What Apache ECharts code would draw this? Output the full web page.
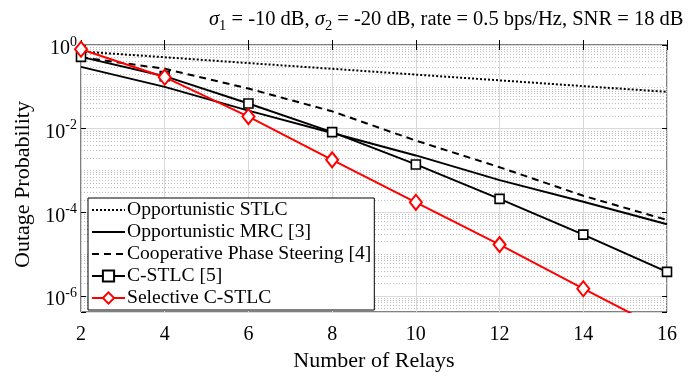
<!DOCTYPE html>
<html><head><meta charset="utf-8">
<script src="https://cdn.jsdelivr.net/npm/echarts@6/dist/echarts.min.js"></script>
<style>html,body{margin:0;padding:0;background:#fff}#c{width:693px;height:377px}</style>
</head><body><div id="c"></div>
<script>
// ---- data ----
const relays = [2, 4, 6, 8, 10, 12, 14, 16];
const oppSTLC  = [0.70, 0.51, 0.37, 0.27, 0.196, 0.143, 0.104, 0.076];
const oppMRC   = [0.30, 0.10, 0.027, 0.0079, 0.0023, 5.9e-4, 1.8e-4, 5.2e-5];
const coopPS   = [0.51, 0.27, 0.091, 0.026, 0.0052, 0.0012, 2.5e-4, 6.6e-5];
const cSTLC    = [0.52, 0.18, 0.040, 0.0083, 0.0014, 2.1e-4, 2.95e-5, 3.8e-6];
const selCSTLC = [0.79, 0.17, 0.0195, 0.0018, 1.74e-4, 1.7e-5, 1.5e-6, 1.4e-7];
const seriesNames = ['Opportunistic STLC', 'Opportunistic MRC [3]', 'Cooperative Phase Steering [4]', 'C-STLC [5]', 'Selective C-STLC'];
const yMajorExponents = [0, -2, -4, -6];
const yMinorDecades = [0, -1, -2, -3, -4, -5, -6, -7];
const yMinorMultipliers = [2, 3, 4, 5, 6, 7, 8, 9];
const yOddDecades = [-1, -3, -5];
const yMinLog = -6.38, yMaxLog = 0;

const FONT = '"Liberation Serif", "Times New Roman", serif';
const toLog = arr => arr.map((v, i) => [relays[i], Math.log10(v)]);

// minor (dotted) grid lines at m*10^k
const minorLines = [];
yMinorDecades.forEach(k => yMinorMultipliers.forEach(m => {
  const v = Math.log10(m) + k;
  if (v > yMinLog && v < yMaxLog) minorLines.push({yAxis: v});
}));
yOddDecades.forEach(k => minorLines.push({yAxis: k}));

const chart = echarts.init(document.getElementById('c'), null, {renderer: 'canvas'});
const yLabelFmt = v => {
  const e = Math.round(v);
  if (Math.abs(v - e) > 1e-6 || yMajorExponents.indexOf(e) < 0) return '';
  return '{b|10}{s|' + e + '}';
};
const baseY = {
  type: 'value', min: yMinLog, max: yMaxLog, splitNumber: 3,
  axisLine: {show: false},
  axisTick: {show: true, inside: true, length: 5, lineStyle: {color: '#000'}},
};
const noSymbolLegend = {opacity: 0};
const option = {
  animation: false,
  backgroundColor: '#fff',
  title: {
    text: '{i|σ}{sub|1}{n| = -10 dB, }{i|σ}{sub|2}{n| = -20 dB, rate = 0.5 bps/Hz, SNR = 18 dB}',
    left: 204, top: 1,
    textStyle: {
      fontWeight: 'normal',
      rich: {
        i: {fontFamily: FONT, fontSize: 20.5, fontStyle: 'italic', fontWeight: 'normal', color: '#000', lineHeight: 28},
        n: {fontFamily: FONT, fontSize: 20.5, fontWeight: 'normal', color: '#000', lineHeight: 28},
        sub: {fontFamily: FONT, fontSize: 14.5, fontWeight: 'normal', color: '#000', lineHeight: 12, verticalAlign: 'bottom'}
      }
    }
  },
  grid: {left: 81, right: 26, top: 45, bottom: 60, show: true, borderColor: '#000', borderWidth: 1, backgroundColor: 'transparent'},
  legend: {
    orient: 'vertical', left: 88, top: 198,
    backgroundColor: '#fff', borderColor: '#000', borderWidth: 1,
    padding: [2, 3, 2, 3], itemGap: 2, itemWidth: 33, itemHeight: 14,
    textStyle: {fontFamily: FONT, fontSize: 19.6, color: '#000', lineHeight: 20, padding: [0, 0, 0, -3]},
    data: [
      {name: seriesNames[0], itemStyle: noSymbolLegend},
      {name: seriesNames[1], itemStyle: noSymbolLegend},
      {name: seriesNames[2], itemStyle: noSymbolLegend},
      {name: seriesNames[3]},
      {name: seriesNames[4]}
    ]
  },
  xAxis: [{
    type: 'value', min: 2, max: 16, interval: 2,
    name: 'Number of Relays', nameLocation: 'middle', nameGap: 38,
    nameTextStyle: {fontFamily: FONT, fontSize: 22, color: '#000'},
    axisLine: {show: false},
    axisTick: {show: true, inside: true, length: 5, lineStyle: {color: '#000'}},
    axisLabel: {fontFamily: FONT, fontSize: 20, color: '#000', margin: 13},
    splitLine: {show: true, lineStyle: {color: '#d9d9d9', width: 1}}
  }, {
    type: 'value', min: 2, max: 16, interval: 2, position: 'top',
    axisLine: {show: false}, axisLabel: {show: false}, splitLine: {show: false},
    axisTick: {show: true, inside: true, length: 5, lineStyle: {color: '#000'}}
  }],
  yAxis: [Object.assign({}, baseY, {
    name: 'Outage Probability', nameLocation: 'middle', nameGap: 44,
    nameTextStyle: {fontFamily: FONT, fontSize: 22, color: '#000', padding: [0, 12, 0, 0]},
    axisLabel: {
      formatter: yLabelFmt, margin: 4, padding: [8, 0, 0, 0],
      rich: {
        b: {fontFamily: FONT, fontSize: 20, color: '#000', lineHeight: 28},
        s: {fontFamily: FONT, fontSize: 14, color: '#000', lineHeight: 12, verticalAlign: 'top'}
      }
    },
    splitLine: {show: true, lineStyle: {color: '#d9d9d9', width: 1}}
  }), Object.assign({}, baseY, {
    position: 'right', axisLabel: {show: false}, splitLine: {show: false}
  })],
  series: [{
    name: seriesNames[0], type: 'line', data: toLog(oppSTLC), symbol: 'none',
    lineStyle: {color: '#000', width: 2, type: [2, 2]}, itemStyle: {color: '#000'},
    z: 3,
    markLine: {
      silent: true, symbol: ['none', 'none'], label: {show: false}, z: 1,
      lineStyle: {color: '#bdbdbd', width: 1, type: [1, 2]},
      emphasis: {disabled: true},
      data: minorLines
    }
  }, {
    name: seriesNames[1], type: 'line', data: toLog(oppMRC), symbol: 'none',
    lineStyle: {color: '#000', width: 2}, itemStyle: {color: '#000'}, z: 3
  }, {
    name: seriesNames[2], type: 'line', data: toLog(coopPS), symbol: 'none',
    lineStyle: {color: '#000', width: 2, type: [7, 5]}, itemStyle: {color: '#000'}, z: 3
  }, {
    name: seriesNames[3], type: 'line', data: toLog(cSTLC), symbol: 'rect', symbolSize: 9,
    lineStyle: {color: '#000', width: 2}, itemStyle: {color: '#fff', borderColor: '#000', borderWidth: 1.6}, z: 4
  }, {
    name: seriesNames[4], type: 'line', data: toLog(selCSTLC), symbol: 'diamond', symbolSize: [12, 15],
    lineStyle: {color: '#ff0000', width: 2}, itemStyle: {color: '#fff', borderColor: '#ff0000', borderWidth: 2}, z: 5
  }]
};
chart.setOption(option);
</script></body></html>
